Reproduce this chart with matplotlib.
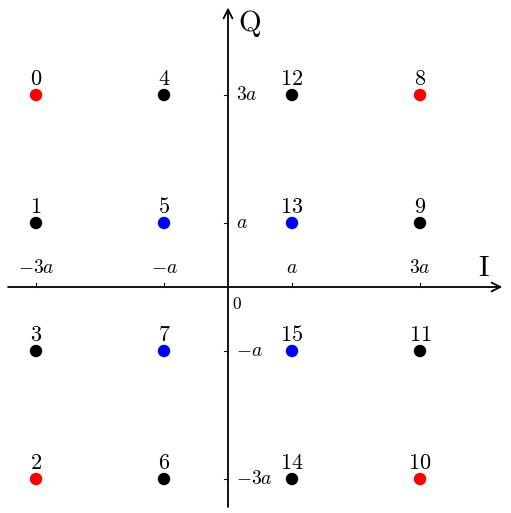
import matplotlib
matplotlib.use("Agg")
import matplotlib.pyplot as plt

plt.rcParams['mathtext.fontset'] = 'cm'

xs = [-3, -1, 1, 3, -3, -1, 1, 3, -3, -1, 1, 3, -3, -1, 1, 3]
ys = [3, 3, 3, 3, 1, 1, 1, 1, -1, -1, -1, -1, -3, -3, -3, -3]
labels = ['0', '4', '12', '8', '1', '5', '13', '9', '3', '7', '15', '11', '2', '6', '14', '10']
colors = ['red', 'black', 'black', 'red',
          'black', 'blue', 'blue', 'black',
          'black', 'blue', 'blue', 'black',
          'red', 'black', 'black', 'red']
xticks = [-3, -1, 1, 3]
xticklabels = ['$-3a$', '$-a$', '$a$', '$3a$']
yticks = [3, 1, -1, -3]
yticklabels = ['$3a$', '$a$', '$-a$', '$-3a$']

fig = plt.figure(figsize=(5.11, 5.13), dpi=100)
ax = fig.add_axes([0, 0, 1, 1])
ax.set_xlim(-228 / 64, (511 - 228) / 64)
ax.set_ylim((287 - 513) / 64, 287 / 64)
ax.axis('off')

# axes with arrows
ax.annotate('', xy=(4.33, 0), xytext=(-3.48, 0),
            arrowprops=dict(arrowstyle='->', lw=1.3, color='black', mutation_scale=16))
ax.annotate('', xy=(0, 4.41), xytext=(0, -3.48),
            arrowprops=dict(arrowstyle='->', lw=1.3, color='black', mutation_scale=16))

# ticks
for t, lab in zip(xticks, xticklabels):
    ax.plot([t, t], [0, 0.07], color='black', lw=0.8)
    ax.text(t, 0.15, lab, ha='center', va='bottom', fontsize=14)
for t, lab in zip(yticks, yticklabels):
    ax.plot([-0.07, 0], [t, t], color='black', lw=0.8)
    ax.text(0.12, t, lab, ha='left', va='center', fontsize=14)
ax.text(0.06, -0.27, '$0$', ha='left', va='center', fontsize=12.5)

ax.text(0.15, 4.12, r'$\mathrm{Q}$', ha='left', va='center', fontsize=21)
ax.text(4.0, 0.3, r'$\mathrm{I}$', ha='center', va='center', fontsize=21)

ax.scatter(xs, ys, s=80, c=colors, zorder=3, linewidths=0)
for x, y, lab in zip(xs, ys, labels):
    ax.annotate(r'$\mathrm{' + lab + '}$', (x, y), xytext=(0, 4.5), textcoords='offset points',
                ha='center', va='bottom', fontsize=16)

fig.savefig('out.png', dpi=100)
